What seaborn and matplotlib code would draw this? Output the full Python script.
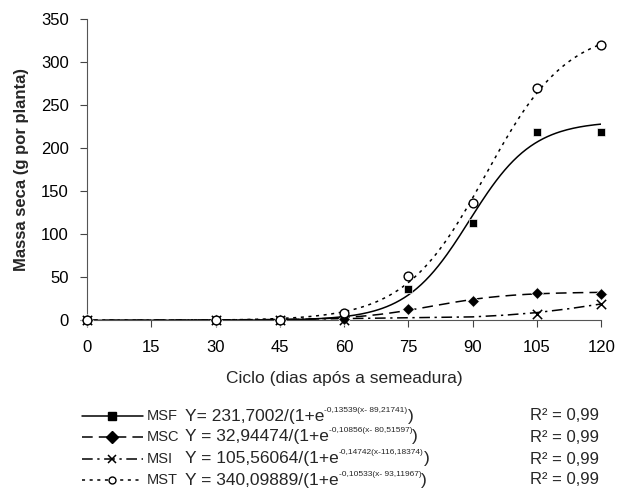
import numpy as np
import matplotlib
matplotlib.use("Agg")
import matplotlib.pyplot as plt
from matplotlib.lines import Line2D
import seaborn as sns

# observed points
dias = [0, 30, 45, 60, 75, 90, 105, 120]
msf = [0, 0, 0, 4, 37, 113, 219, 219]
msc = [0, 0, 0, 1, 13.5, 22, 32, 31]
msi = [0, 0, 0, 0, np.nan, np.nan, 7, 19]
mst = [0, 0, 0, 8, 52, 137, 270, 320]

# fitted logistic parameters (K, r, x0) as printed
par_msf = [231.7002, 0.13539, 89.21741]
par_msc = [32.94474, 0.10856, 80.51597]
par_mst = [340.09889, 0.10533, 93.11967]
# MSI fitted line (printed params don't match the drawn curve)
msi_fit_x = [0, 30, 45, 60, 75, 90, 97.5, 105, 112.5, 120]
msi_fit_y = [0, 0.5, 1, 2, 3, 4, 6, 9, 13.5, 19]

eq_main = ["Y= 231,7002/(1+e", "Y = 32,94474/(1+e", "Y = 105,56064/(1+e", "Y = 340,09889/(1+e"]
eq_exp = ["-0,13539(x- 89,21741)", "-0,10856(x- 80,51597)", "-0,14742(x-116,18374)", "-0,10533(x- 93,11967)"]
series = ["MSF", "MSC", "MSI", "MST"]
r2 = "R\u00b2 = 0,99"

sns.set_style("ticks")
plt.rcParams['font.family'] = ['Liberation Sans', 'DejaVu Sans']

def logist(x, p):
    return p[0] / (1 + np.exp(-p[1] * (x - p[2])))

fig = plt.figure(figsize=(6.23, 4.88), dpi=100)
ax = fig.add_axes([0.1396, 0.3436, 0.8254, 0.6168])

xs = np.linspace(0, 120, 241)
styles = {"MSF": "-", "MSC": (0, (7, 4)), "MSI": (0, (7, 3, 1.5, 3)), "MST": (0, (2, 3))}
sns.lineplot(x=xs, y=logist(xs, par_msf), ax=ax, color="black", lw=1.1, linestyle=styles["MSF"])
sns.lineplot(x=xs, y=logist(xs, par_msc), ax=ax, color="black", lw=1.1, linestyle=styles["MSC"])
sns.lineplot(x=msi_fit_x, y=msi_fit_y, ax=ax, color="black", lw=1.1, linestyle=styles["MSI"])
sns.lineplot(x=xs, y=logist(xs, par_mst), ax=ax, color="black", lw=1.1, linestyle=styles["MST"])

mk = {"MSF": dict(marker="s", s=34, color="black"),
      "MSC": dict(marker="D", s=36, color="black"),
      "MSI": dict(marker="x", s=45, color="black", linewidth=1.1),
      "MST": dict(marker="o", s=40, facecolor="white", edgecolor="black", linewidth=1.0)}
for name, vals in zip(series, [msf, msc, msi, mst]):
    sns.scatterplot(x=dias, y=vals, ax=ax, zorder=5, clip_on=False, **mk[name])

ax.set_xlim(0, 120)
ax.set_ylim(0, 350)
ax.set_xticks(range(0, 121, 15))
ax.set_yticks(range(0, 351, 50))
ax.tick_params(labelsize=12, length=5, width=0.8, colors="#444444", labelcolor="black")
ax.tick_params(axis="x", pad=9)
ax.tick_params(axis="y", pad=8)
for s in ["left", "bottom"]:
    ax.spines[s].set_linewidth(0.8)
    ax.spines[s].set_color("#555555")
sns.despine(ax=ax)
ax.set_xlabel("Ciclo (dias após a semeadura)", fontsize=12.5, labelpad=12)
ax.set_ylabel("Massa seca (g por planta)", fontsize=12, fontweight="bold", labelpad=9)

# custom legend under the axes
fig.canvas.draw()
rend = fig.canvas.get_renderer()
rows_y = [416, 437, 459, 480]
W, H = 623.0, 488.0
hmk = {"MSF": dict(marker="s", ms=6, mfc="black", mec="black"),
       "MSC": dict(marker="D", ms=6, mfc="black", mec="black"),
       "MSI": dict(marker="x", ms=6, mec="black", mew=1.1),
       "MST": dict(marker="o", ms=5, mfc="white", mec="black")}
for i, name in enumerate(series):
    yf = 1 - rows_y[i] / H
    fig.add_artist(Line2D([82 / W, 143 / W], [yf, yf], color="black", lw=1.1,
                          linestyle=styles[name], transform=fig.transFigure))
    fig.add_artist(Line2D([112 / W], [yf], color="black", transform=fig.transFigure, **hmk[name]))
    fig.text(147 / W, yf, name, fontsize=10.5, va="center")
    t = fig.text(185 / W, yf, eq_main[i], fontsize=12.5, va="center")
    bb = t.get_window_extent(rend)
    t2 = fig.text(bb.x1 / W, yf + 6 / H, eq_exp[i], fontsize=6, va="center")
    bb2 = t2.get_window_extent(rend)
    fig.text(bb2.x1 / W, yf, ")", fontsize=12.5, va="center")
    fig.text(599 / W, yf, r2, fontsize=12, va="center", ha="right")

fig.savefig("out.png", dpi=100)
